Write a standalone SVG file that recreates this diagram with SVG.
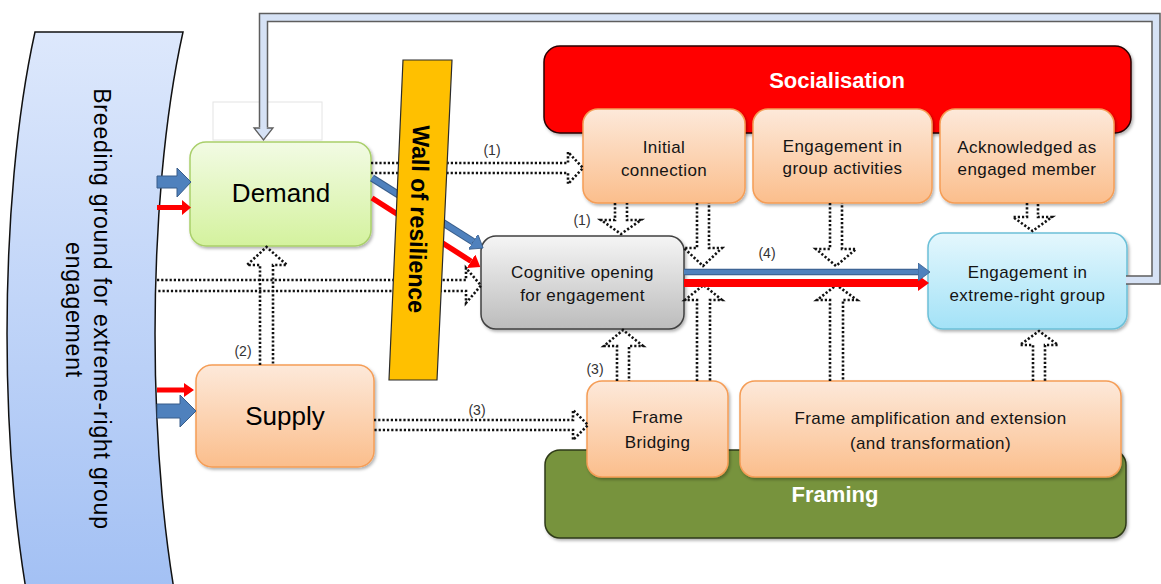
<svg xmlns="http://www.w3.org/2000/svg" width="1161" height="584" viewBox="0 0 1161 584">
  <defs>
    <linearGradient id="gBreed" x1="0" y1="0" x2="0" y2="1">
      <stop offset="0" stop-color="#dde8fc"/>
      <stop offset="1" stop-color="#9ebdf3"/>
    </linearGradient>
    <linearGradient id="gGreen" x1="0" y1="0" x2="0" y2="1">
      <stop offset="0" stop-color="#f2fbe4"/>
      <stop offset="1" stop-color="#d4f29e"/>
    </linearGradient>
    <linearGradient id="gOrange" x1="0" y1="0" x2="0" y2="1">
      <stop offset="0" stop-color="#fde9da"/>
      <stop offset="1" stop-color="#fbbe8c"/>
    </linearGradient>
    <linearGradient id="gGrey" x1="0" y1="0" x2="0" y2="1">
      <stop offset="0" stop-color="#f5f5f5"/>
      <stop offset="1" stop-color="#bcbcbc"/>
    </linearGradient>
    <linearGradient id="gCyan" x1="0" y1="0" x2="0" y2="1">
      <stop offset="0" stop-color="#e4f7fd"/>
      <stop offset="1" stop-color="#a3e2f7"/>
    </linearGradient>
    <filter id="shadow" x="-10%" y="-10%" width="125%" height="130%">
      <feDropShadow dx="1.5" dy="2" stdDeviation="1.5" flood-color="#000" flood-opacity="0.3"/>
    </filter>
    <marker id="headBlue" viewBox="0 0 12 18" refX="0" refY="9" markerWidth="12" markerHeight="18" orient="auto" markerUnits="userSpaceOnUse">
      <path d="M0 0 L12 9 L0 18 Z" fill="#4f81bd" stroke="#385d8a" stroke-width="0.8"/>
    </marker>
    <marker id="headRed" viewBox="0 0 11 16" refX="0" refY="8" markerWidth="11" markerHeight="16" orient="auto" markerUnits="userSpaceOnUse">
      <path d="M0 0 L11 8 L0 16 Z" fill="#ff0000"/>
    </marker>
  </defs>
  <style>
    text { font-family: "Liberation Sans", Arial, sans-serif; }
    .lbl { font-size: 17px; letter-spacing: 0.4px; text-anchor: middle; fill: #141414; }
    .big { font-size: 26px; text-anchor: middle; fill: #000; }
    .head { font-size: 22px; font-weight: bold; text-anchor: middle; fill: #ffffff; }
    .num { font-size: 14px; text-anchor: middle; fill: #333; }
    .orange { fill: url(#gOrange); stroke: #f59d56; stroke-width: 1.5; filter: url(#shadow); }
    .dot { fill: none; stroke: #111; stroke-width: 2.6; stroke-dasharray: 2.2 2; }
  </style>

  <rect width="1161" height="584" fill="#ffffff"/>

  <!-- breeding ground band -->
  <g id="breeding-ground">
    <path d="M35 32 L183 32 C145.7 200 145.7 468 183 636 L35 636 C-2.3 468 -2.3 200 35 32 Z" fill="url(#gBreed)" stroke="#111" stroke-width="1.5"/>
    <text transform="translate(93.5,309) rotate(90)" font-size="23" letter-spacing="0.8" text-anchor="middle" fill="#000">Breeding ground for extreme-right group</text>
    <text transform="translate(66,310) rotate(90)" font-size="23" letter-spacing="0.8" text-anchor="middle" fill="#000">engagement</text>
  </g>

  <!-- faint empty box above Demand -->
  <rect x="213" y="102" width="109" height="38" fill="#ffffff" stroke="#e4e4e4" stroke-width="1"/>

  <!-- group containers -->
  <g id="socialisation">
    <rect x="544" y="46" width="587" height="87" rx="16" fill="#ff0000" stroke="#2a0000" stroke-width="1.5" filter="url(#shadow)"/>
    <text class="head" x="837" y="88">Socialisation</text>
  </g>
  <g id="framing">
    <rect x="545" y="450" width="581" height="88" rx="15" fill="#77933c" stroke="#2f3a18" stroke-width="1.5" filter="url(#shadow)"/>
    <text class="head" x="835" y="502">Framing</text>
  </g>

  <!-- nodes -->
  <g id="demand">
    <rect x="190" y="142" width="181" height="104" rx="16" fill="url(#gGreen)" stroke="#a9cf6a" stroke-width="1.5" filter="url(#shadow)"/>
    <text class="big" x="281" y="202">Demand</text>
  </g>
  <g id="supply">
    <rect x="196" y="365" width="178" height="102" rx="16" class="orange"/>
    <text class="big" x="285" y="425" font-size="25">Supply</text>
  </g>
  <g id="initial-connection">
    <rect x="583" y="109" width="162" height="94" rx="15" class="orange"/>
    <text class="lbl" x="664" y="153">Initial</text>
    <text class="lbl" x="664" y="176">connection</text>
  </g>
  <g id="group-activities">
    <rect x="753" y="109" width="179" height="94" rx="15" class="orange"/>
    <text class="lbl" x="842.5" y="152">Engagement in</text>
    <text class="lbl" x="842.5" y="174">group activities</text>
  </g>
  <g id="acknowledged">
    <rect x="940" y="109" width="174" height="94" rx="15" class="orange"/>
    <text class="lbl" x="1027" y="153">Acknowledged as</text>
    <text class="lbl" x="1027" y="175">engaged member</text>
  </g>
  <g id="cognitive-opening">
    <rect x="481" y="236" width="203" height="93" rx="15" fill="url(#gGrey)" stroke="#404040" stroke-width="1.5" filter="url(#shadow)"/>
    <text class="lbl" x="582.5" y="278">Cognitive opening</text>
    <text class="lbl" x="582.5" y="301">for engagement</text>
  </g>
  <g id="engagement-group">
    <rect x="928" y="233" width="199" height="96" rx="15" fill="url(#gCyan)" stroke="#6cc0d8" stroke-width="1.5" filter="url(#shadow)"/>
    <text class="lbl" x="1027.5" y="278">Engagement in</text>
    <text class="lbl" x="1027.5" y="301">extreme-right group</text>
  </g>
  <g id="frame-bridging">
    <rect x="587" y="381" width="141" height="96" rx="15" class="orange"/>
    <text class="lbl" x="657.5" y="423">Frame</text>
    <text class="lbl" x="657.5" y="448">Bridging</text>
  </g>
  <g id="frame-amplification">
    <rect x="740" y="381" width="381" height="96" rx="15" class="orange"/>
    <text class="lbl" x="930.5" y="424">Frame amplification and extension</text>
    <text class="lbl" x="930.5" y="449">(and transformation)</text>
  </g>

  <!-- connectors -->
  <g id="connectors">
    <!-- dotted block arrows -->
    <path class="dot" d="M371 163 H568 V152 L583 168 L568 184 V173 H371"/>
    <path class="dot" d="M157 280 H466 V268 L481 285.5 L466 303 V291 H157"/>
    <path class="dot" d="M260 365 V265 H247 L266.5 247 L287 265 H273 V365"/>
    <path class="dot" d="M374 420 H573 V410 L588 425 L573 440 V430 H374"/>
    <path class="dot" d="M617 381 V346 H604 L623 330 L643 346 H629 V381"/>
    <path class="dot" d="M615 203 V220 H601 L621 234 L641 220 H627 V203"/>
    <path class="dot" d="M697 203 V248 H684 L703 266 L722 248 H709 V203"/>
    <path class="dot" d="M697 381 V300 H685 L703.5 285 L722 300 H710 V381"/>
    <path class="dot" d="M830 203 V249 H816 L836 266 L856 249 H842 V203"/>
    <path class="dot" d="M830 381 V300 H817 L836.5 285 L857 300 H843 V381"/>
    <path class="dot" d="M1027 203 V217 H1013 L1032.5 231 L1052 217 H1038 V203"/>
    <path class="dot" d="M1033 381 V345 H1020 L1039 331 L1058 345 H1045 V381"/>

    <!-- thick arrows from the breeding ground -->
    <path d="M157 176 H177 V168 L191 182 L177 197 V188 H157 Z" fill="#4f81bd" stroke="#385d8a" stroke-width="1"/>
    <path d="M157 205 H182 V200 L191 207.5 L182 215 V210 H157 Z" fill="#ff0000"/>
    <path d="M157 387.5 H184 V383 L194 390 L184 397 V392.5 H157 Z" fill="#ff0000"/>
    <path d="M157 404 H180 V395 L196 411 L180 427 V418 H157 Z" fill="#4f81bd" stroke="#385d8a" stroke-width="1"/>

    <!-- Demand to cognitive opening -->
    <line x1="372" y1="178" x2="473" y2="241.7" stroke="#385d8a" stroke-width="7.5"/>
    <line x1="372" y1="178" x2="473" y2="241.7" stroke="#4f81bd" stroke-width="5.5" marker-end="url(#headBlue)"/>
    <line x1="372" y1="198" x2="471" y2="261.2" stroke="#ff0000" stroke-width="5.5" marker-end="url(#headRed)"/>

    <!-- cognitive opening to engagement (4) -->
    <line x1="684" y1="283" x2="918" y2="283" stroke="#ff0000" stroke-width="8" marker-end="url(#headRed)"/>
    <line x1="684" y1="272" x2="918" y2="272" stroke="#385d8a" stroke-width="6.5"/>
    <line x1="684" y1="272" x2="918" y2="272" stroke="#4f81bd" stroke-width="4.5" marker-end="url(#headBlue)"/>

    <!-- feedback loop back to Demand -->
    <path d="M1126 280 H1156 V17.5 H263.5 V127" fill="none" stroke="#5e5e5e" stroke-width="9.5" stroke-linejoin="miter"/>
    <path d="M254 128 L273 128 L263.5 140 Z" fill="#d6e2f5" stroke="#5e5e5e" stroke-width="1.3" stroke-linejoin="miter"/>
    <path d="M1126 280 H1156 V17.5 H263.5 V129.5" fill="none" stroke="#d6e2f5" stroke-width="6.5" stroke-linejoin="miter"/>

    <!-- step labels -->
    <text class="num" x="492" y="155">(1)</text>
    <text class="num" x="582" y="225">(1)</text>
    <text class="num" x="243" y="356">(2)</text>
    <text class="num" x="477" y="415">(3)</text>
    <text class="num" x="595" y="374">(3)</text>
    <text class="num" x="767" y="258">(4)</text>
  </g>

  <!-- wall of resilience -->
  <g id="wall-of-resilience">
    <path d="M403 60 L452 60 L437 380 L389 380 Z" fill="#ffc000" stroke="#2b2b2b" stroke-width="1.2"/>
    <text transform="translate(410.5,219) rotate(91.5)" font-size="24" font-weight="bold" text-anchor="middle" fill="#000" textLength="188" lengthAdjust="spacingAndGlyphs">Wall of resilience</text>
  </g>
</svg>
